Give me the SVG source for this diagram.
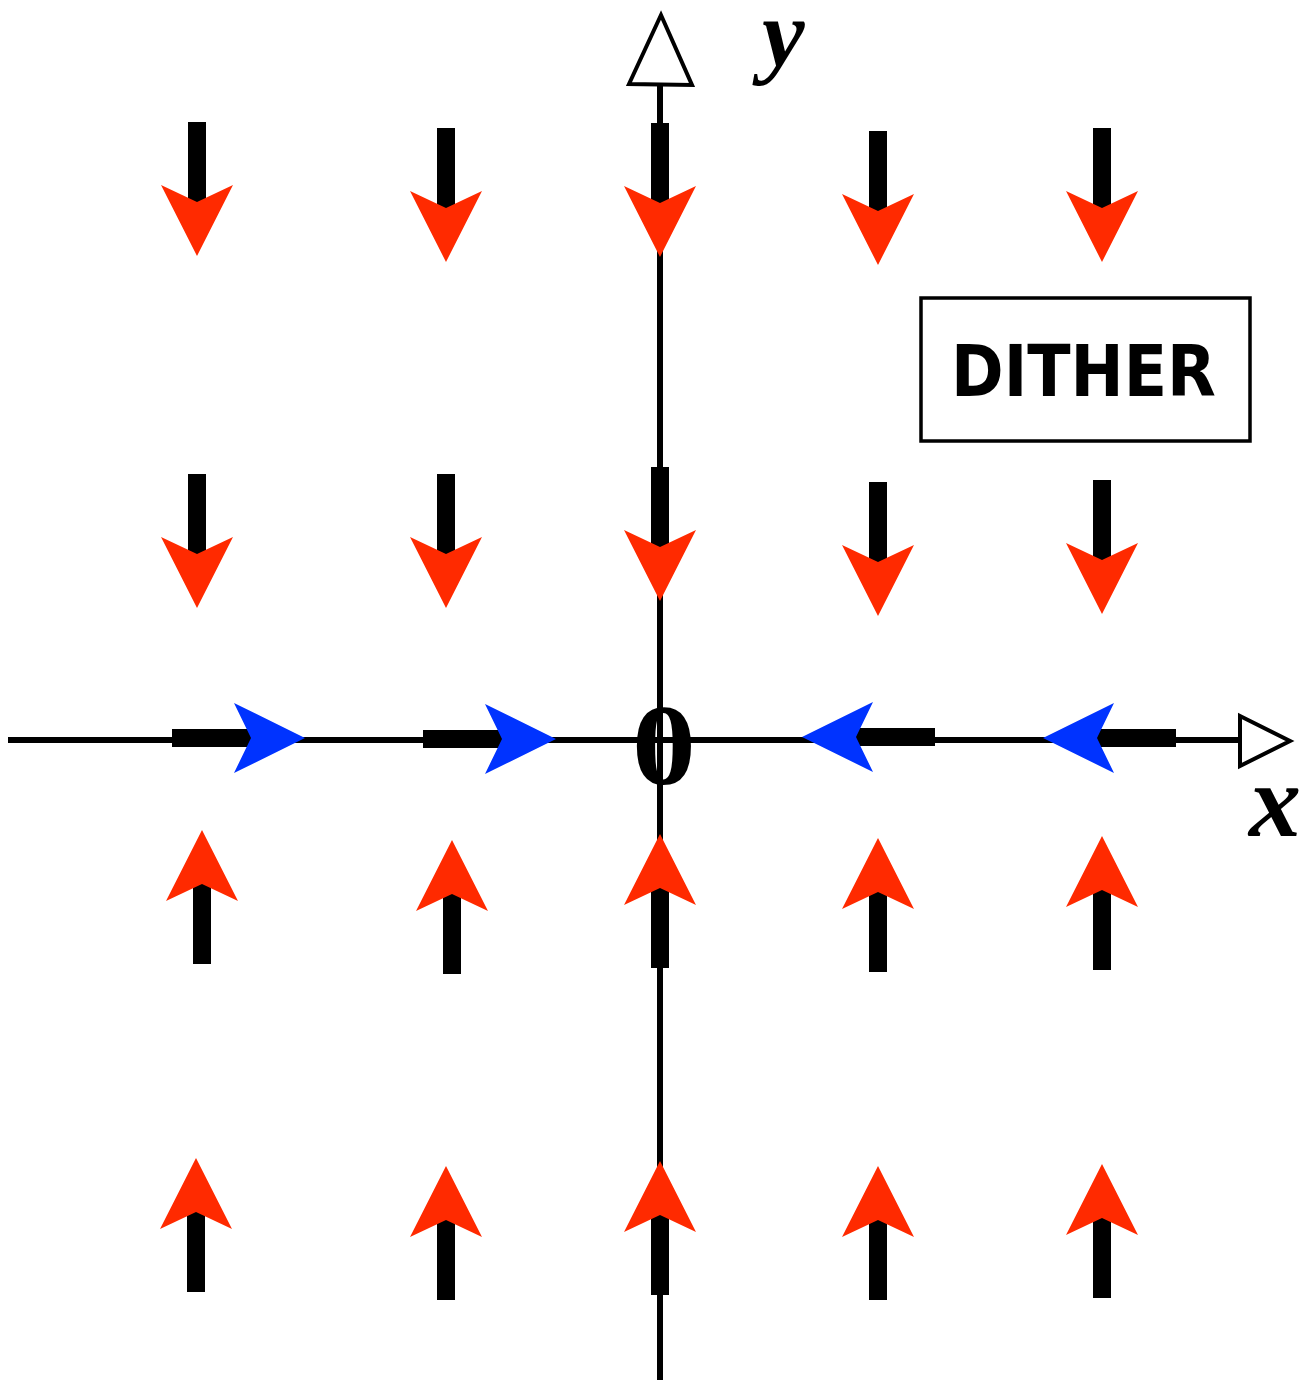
<svg xmlns="http://www.w3.org/2000/svg" width="1300" height="1380" viewBox="0 0 1300 1380">
<style>
.axis{stroke:#000;stroke-width:6;fill:none}
.axhead{fill:#fff;stroke:#000;stroke-width:4;stroke-linejoin:miter}
.shaft{fill:#000}
.red{fill:#ff2a00}
.blue{fill:#0033ff}
.lbl{font-family:"Liberation Serif",serif;font-weight:bold;fill:#000}
.box{fill:#fff;stroke:#000;stroke-width:3.5}
.dither{font-family:"DejaVu Sans","Liberation Sans",sans-serif;font-weight:bold;font-size:72px;fill:#000}
</style>
<defs>
<g id="down">
<rect class="shaft" x="-9" y="-134" width="18" height="82"/>
<path class="red" d="M-36,-71 L0,-54 L36,-71 L0,0 Z"/>
</g>
<g id="up">
<rect class="shaft" x="-9" y="52" width="18" height="82"/>
<path class="red" d="M-36,71 L0,54 L36,71 L0,0 Z"/>
</g>
<g id="right">
<rect class="shaft" x="-133" y="-9" width="82" height="18"/>
<path class="blue" d="M-71,-35 L-54,0 L-71,35 L0,0 Z"/>
</g>
<g id="left">
<rect class="shaft" x="51" y="-9" width="82" height="18"/>
<path class="blue" d="M71,-35 L54,0 L71,35 L0,0 Z"/>
</g>
</defs>
<rect width="1300" height="1380" fill="#fff"/>
<g id="connectors">
<line class="axis" x1="8" y1="740" x2="1240" y2="740"/>
<line class="axis" x1="660" y1="1380" x2="660" y2="85"/>
<path class="axhead" d="M1240,716 L1290,741 L1240,766 Z"/>
<path class="axhead" d="M629,84 L661,15 L692,85 Z"/>
</g>
<g id="arrows-row1">
<use id="a11" href="#down" transform="translate(197,256)"/>
<use id="a12" href="#down" transform="translate(446,262)"/>
<use id="a13" href="#down" transform="translate(660,257)"/>
<use id="a14" href="#down" transform="translate(878,265)"/>
<use id="a15" href="#down" transform="translate(1102,262)"/>
</g>
<g id="arrows-row2">
<use id="a21" href="#down" transform="translate(197,608)"/>
<use id="a22" href="#down" transform="translate(446,608)"/>
<use id="a23" href="#down" transform="translate(660,601)"/>
<use id="a24" href="#down" transform="translate(878,616)"/>
<use id="a25" href="#down" transform="translate(1102,614)"/>
</g>
<g id="arrows-row3">
<use id="a31" href="#up" transform="translate(202,830)"/>
<use id="a32" href="#up" transform="translate(452,840)"/>
<use id="a33" href="#up" transform="translate(660,834)"/>
<use id="a34" href="#up" transform="translate(878,838)"/>
<use id="a35" href="#up" transform="translate(1102,836)"/>
</g>
<g id="arrows-row4">
<use id="a41" href="#up" transform="translate(196,1158)"/>
<use id="a42" href="#up" transform="translate(446,1166)"/>
<use id="a43" href="#up" transform="translate(660,1161)"/>
<use id="a44" href="#up" transform="translate(878,1166)"/>
<use id="a45" href="#up" transform="translate(1102,1164)"/>
</g>
<g id="arrows-xaxis">
<use id="b1" href="#right" transform="translate(305,738)"/>
<use id="b2" href="#right" transform="translate(556,739)"/>
<use id="b3" href="#left" transform="translate(802,737)"/>
<use id="b4" href="#left" transform="translate(1043,738)"/>
</g>
<g id="origin">
<text class="lbl" x="664" y="784" font-size="114" text-anchor="middle" transform="translate(664,784) scale(1.12,1) translate(-664,-784)">0</text>
</g>
<g id="label-y">
<text class="lbl" x="762" y="66" font-size="96" font-style="italic">y</text>
</g>
<g id="label-x">
<text class="lbl" x="1249" y="836" font-size="104" font-style="italic">x</text>
</g>
<g id="dither">
<rect class="box" x="921" y="298" width="329" height="143"/>
<text class="dither" x="951" y="396" textLength="265" lengthAdjust="spacingAndGlyphs">DITHER</text>
</g>
</svg>
